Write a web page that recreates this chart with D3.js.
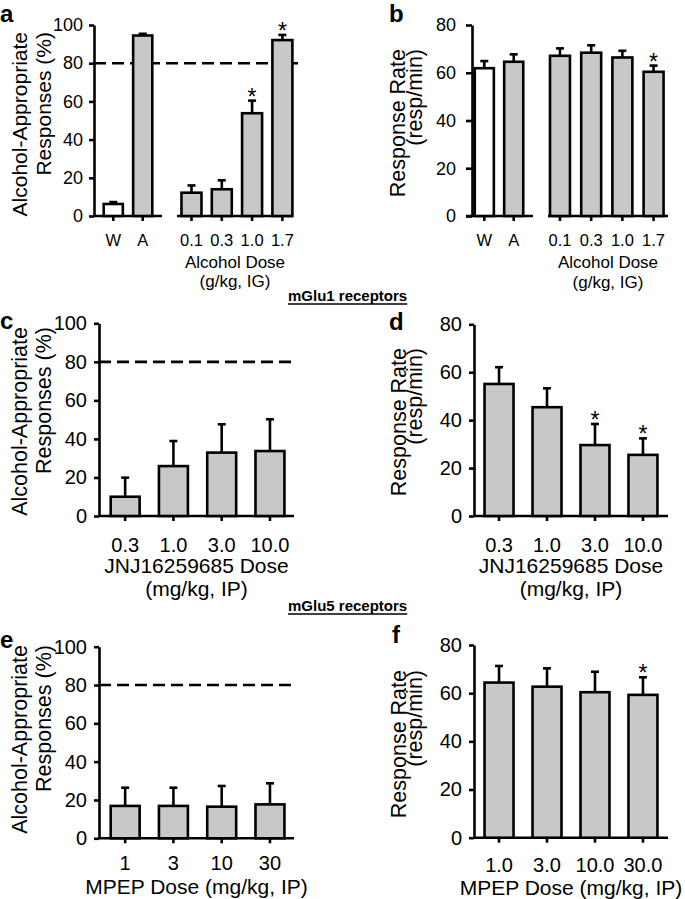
<!DOCTYPE html>
<html><head><meta charset="utf-8">
<script src="https://cdn.jsdelivr.net/npm/d3@7"></script>
<style>body{margin:0;background:#fff} svg{display:block} text{font-family:"Liberation Sans",Arial,Helvetica,sans-serif;fill:#000}</style>
</head><body><svg id="chart" width="685" height="899"></svg>
<script>
// ---------- data ----------
const alcControls = ["W", "A"];
const alcDoses = ["0.1", "0.3", "1.0", "1.7"];
const aMeans = [6.3, 94.5, 12.2, 14.0, 53.8, 92.1];
const aErr   = [1.0, 0.9, 3.8, 4.7, 6.6, 2.7];
const aSig   = [false, false, false, false, true, true];
const bMeans = [61.9, 64.6, 67.1, 68.4, 66.4, 60.4];
const bErr   = [3.0, 3.1, 3.1, 3.1, 2.8, 2.6];
const bSig   = [false, false, false, false, false, true];
const jnjDoses = ["0.3", "1.0", "3.0", "10.0"];
const cMeans = [10.0, 25.9, 32.9, 33.7];
const cErr   = [9.9, 13.0, 14.7, 16.5];
const cSig   = [false, false, false, false];
const dMeans = [55.1, 45.4, 29.6, 25.5];
const dErr   = [7.0, 7.9, 8.8, 6.9];
const dSig   = [false, false, true, true];
const mpepDosesE = ["1", "3", "10", "30"];
const mpepDosesF = ["1.0", "3.0", "10.0", "30.0"];
const eMeans = [16.9, 16.9, 16.5, 17.7];
const eErr   = [9.5, 9.5, 10.8, 11.0];
const eSig   = [false, false, false, false];
const fMeans = [64.4, 62.7, 60.4, 59.3];
const fErr   = [6.9, 7.6, 8.5, 7.3];
const fSig   = [false, false, false, true];
const pctTicks = [0, 20, 40, 60, 80, 100];
const rateTicks = [0, 20, 40, 60, 80];
const criterion = 80;

// ---------- drawing ----------
const svg = d3.select("#chart");
const SW = 2.6;
const GRAY = "#c8c8c8";

function panel(c) {
  const g = svg.append("g");
  const y = d3.scaleLinear().domain([0, c.yMax]).range([c.y0, c.yTop]);

  // y axis
  const ya = g.append("g").attr("transform", `translate(${c.axisX},0)`)
    .call(d3.axisLeft(y).tickValues(c.ticks).tickSize(c.tickLen).tickPadding(c.yPad).tickSizeOuter(0));
  ya.selectAll("path,line").attr("stroke", "#000").attr("stroke-width", SW);
  ya.selectAll("text").style("font-size", c.yFont + "px").attr("fill", "#000");

  // criterion line
  if (c.dashEnd) {
    g.append("line").attr("x1", c.axisX).attr("x2", c.dashEnd)
      .attr("y1", y(criterion)).attr("y2", y(criterion))
      .attr("stroke", "#000").attr("stroke-width", SW).attr("stroke-dasharray", "12,6");
  }

  let idx = 0;
  c.groups.forEach(gr => {
    const x = d3.scaleBand().domain(gr.cats).range(gr.range)
      .paddingInner(gr.pi).paddingOuter(gr.po).align(gr.al);
    const rows = gr.cats.map((k, i) => ({
      k, v: c.means[idx + i], e: c.errs[idx + i], s: c.sig[idx + i], first: idx + i === 0
    }));
    idx += gr.cats.length;

    // baseline
    g.append("line").attr("x1", gr.range[0] - (gr.baseExt || 0)).attr("x2", gr.range[1])
      .attr("y1", y(0)).attr("y2", y(0)).attr("stroke", "#000").attr("stroke-width", SW);

    // x ticks
    const xa = g.append("g").attr("transform", `translate(0,${y(0)})`)
      .call(d3.axisBottom(x).tickSize(5).tickPadding(c.xPad).tickSizeOuter(0));
    xa.select(".domain").remove();
    xa.selectAll("line").attr("stroke", "#000").attr("stroke-width", SW);
    xa.selectAll("text").style("font-size", c.xFont + "px").attr("fill", "#000");

    const cx = d => x(d.k) + x.bandwidth() / 2;
    // error bars
    g.selectAll(null).data(rows).join("line")
      .attr("x1", cx).attr("x2", cx).attr("y1", d => y(d.v)).attr("y2", d => y(d.v + d.e))
      .attr("stroke", "#000").attr("stroke-width", SW);
    g.selectAll(null).data(rows).join("line")
      .attr("x1", d => cx(d) - 4).attr("x2", d => cx(d) + 4)
      .attr("y1", d => y(d.v + d.e)).attr("y2", d => y(d.v + d.e))
      .attr("stroke", "#000").attr("stroke-width", SW);
    // bars
    g.selectAll(null).data(rows).join("rect")
      .attr("x", d => x(d.k)).attr("width", x.bandwidth())
      .attr("y", d => y(d.v)).attr("height", d => y(0) - y(d.v))
      .attr("fill", d => (c.whiteFirst && d.first) ? "#fff" : GRAY)
      .attr("stroke", "#000").attr("stroke-width", SW);
    // stars
    g.selectAll(null).data(rows.filter(d => d.s)).join("text")
      .attr("x", cx).attr("y", d => y(d.v + d.e) + 4)
      .attr("text-anchor", "middle").style("font-size", "23px").text("*");

    if (gr.title) {
      const mid = (gr.range[0] + gr.range[1]) / 2;
      gr.title.forEach((t, i) => {
        g.append("text").attr("x", mid).attr("y", c.titleY[i])
          .attr("text-anchor", "middle").style("font-size", c.tFont + "px").text(t);
      });
    }
  });

  // y title
  c.yTitle.forEach((t, i) => {
    g.append("text").attr("transform", `translate(${c.yTitleX[i]},${c.yTitleTop}) rotate(-90)`)
      .attr("text-anchor", "end").style("font-size", c.ytFont + "px").text(t);
  });
  // panel letter
  g.append("text").attr("x", c.letterX).attr("y", c.letterY)
    .style("font-size", "24px").style("font-weight", "bold").text(c.letter);
}

const alcTitle = ["Alcohol Dose", "(g/kg, IG)"];
const jnjTitle = ["JNJ16259685 Dose", "(mg/kg, IP)"];
const mpepTitle = ["MPEP Dose (mg/kg, IP)"];
const pctLabel = ["Alcohol-Appropriate", "Responses (%)"];
const rateLabel = ["Response Rate", "(resp/min)"];

panel({ letter: "a", letterX: 0, letterY: 22, axisX: 94, y0: 216, yTop: 25, yMax: 100, ticks: pctTicks,
  tickLen: 5, yPad: 6, yFont: 18, xFont: 16.5, xPad: 13.3, tFont: 17, titleY: [268, 287], ytFont: 21,
  yTitle: pctLabel, yTitleX: [27, 51], yTitleTop: 32, dashEnd: 298, whiteFirst: true,
  means: aMeans, errs: aErr, sig: aSig,
  groups: [
    { cats: alcControls, range: [94, 162], pi: 0.35, po: 0.33, al: 0.5 },
    { cats: alcDoses, range: [177, 293], pi: 0.34, po: 0.084, al: 0.88, title: alcTitle }
  ] });

panel({ letter: "b", letterX: 389, letterY: 22, axisX: 472, y0: 216, yTop: 25, yMax: 80, ticks: rateTicks,
  tickLen: 6, yPad: 10, yFont: 18, xFont: 16.5, xPad: 13.3, tFont: 17, titleY: [268, 288], ytFont: 21.5,
  yTitle: rateLabel, yTitleX: [405, 422], yTitleTop: 49, whiteFirst: true,
  means: bMeans, errs: bErr, sig: bSig,
  groups: [
    { cats: alcControls, range: [472, 533], pi: 0.35, po: 0.2125, al: 0.22, baseExt: 6 },
    { cats: alcDoses, range: [548, 668], pi: 0.36, po: 0.103, al: 0.31, title: alcTitle }
  ] });

panel({ letter: "c", letterX: 0, letterY: 329, axisX: 99, y0: 516, yTop: 323.3, yMax: 100, ticks: pctTicks,
  tickLen: 5, yPad: 7, yFont: 20, xFont: 20, xPad: 16.8, tFont: 21, titleY: [573, 596], ytFont: 21.5,
  yTitle: pctLabel, yTitleX: [27, 51], yTitleTop: 327, dashEnd: 294,
  means: cMeans, errs: cErr, sig: cSig,
  groups: [{ cats: jnjDoses, range: [99, 294], pi: 0.4, po: 0.22, al: 0.55, title: jnjTitle }] });

panel({ letter: "d", letterX: 389, letterY: 330, axisX: 474, y0: 516, yTop: 324.3, yMax: 80, ticks: rateTicks,
  tickLen: 5, yPad: 7, yFont: 20, xFont: 20, xPad: 16.5, tFont: 21, titleY: [573, 596], ytFont: 21.5,
  yTitle: rateLabel, yTitleX: [406, 422], yTitleTop: 348,
  means: dMeans, errs: dErr, sig: dSig,
  groups: [{ cats: jnjDoses, range: [474, 668], pi: 0.396, po: 0.22, al: 0.5, title: jnjTitle }] });

panel({ letter: "e", letterX: 0, letterY: 648, axisX: 99, y0: 838.3, yTop: 646.7, yMax: 100, ticks: pctTicks,
  tickLen: 5, yPad: 7, yFont: 20, xFont: 20, xPad: 12.5, tFont: 21, titleY: [894], ytFont: 21.5,
  yTitle: pctLabel, yTitleX: [27, 51], yTitleTop: 645, dashEnd: 294,
  means: eMeans, errs: eErr, sig: eSig,
  groups: [{ cats: mpepDosesE, range: [99, 294], pi: 0.4, po: 0.22, al: 0.55, title: mpepTitle }] });

panel({ letter: "f", letterX: 392, letterY: 643, axisX: 474, y0: 837.7, yTop: 645, yMax: 80, ticks: rateTicks,
  tickLen: 5, yPad: 7, yFont: 20, xFont: 20, xPad: 14.8, tFont: 21, titleY: [895], ytFont: 21.5,
  yTitle: rateLabel, yTitleX: [406, 422], yTitleTop: 670,
  means: fMeans, errs: fErr, sig: fSig,
  groups: [{ cats: mpepDosesF, range: [474, 668], pi: 0.396, po: 0.22, al: 0.5, title: mpepTitle }] });

// section headers
[["mGlu1 receptors", 301], ["mGlu5 receptors", 611]].forEach(([t, yb]) => {
  const tx = svg.append("text").attr("x", 288).attr("y", yb)
    .style("font-size", "15px").style("font-weight", "bold").text(t);
  const w = tx.node().getComputedTextLength();
  svg.append("line").attr("x1", 288).attr("x2", 288 + w).attr("y1", yb + 3).attr("y2", yb + 3)
    .attr("stroke", "#000").attr("stroke-width", 1.3);
});
</script></body></html>
